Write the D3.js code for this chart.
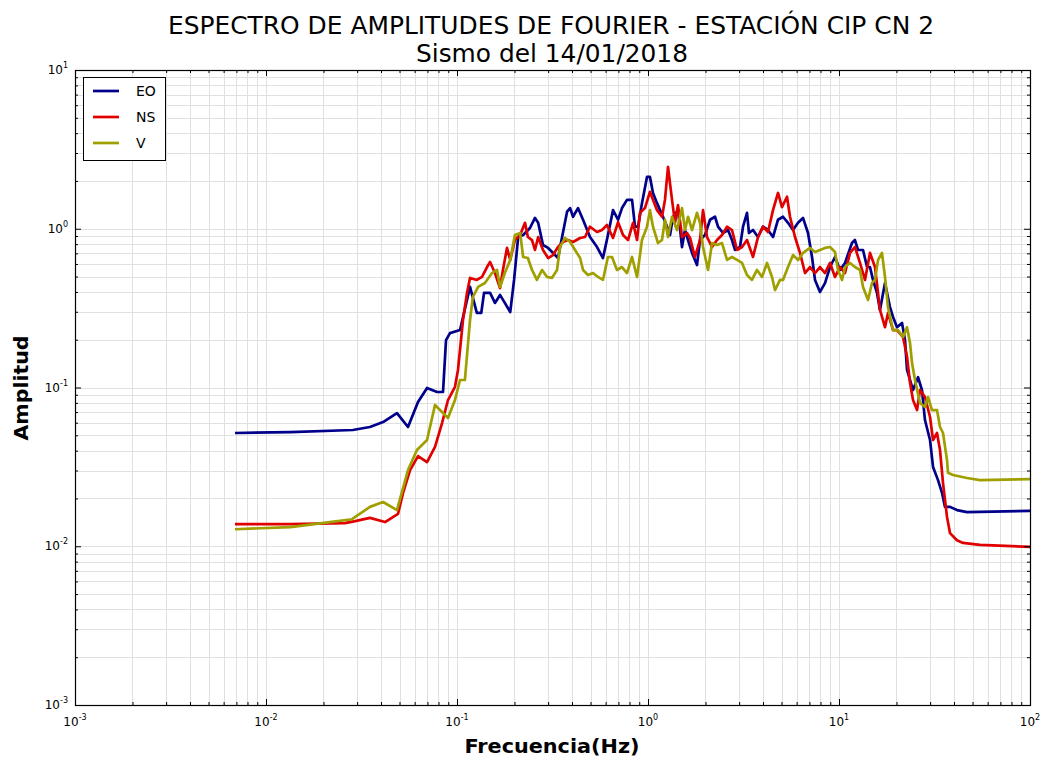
<!DOCTYPE html>
<html>
<head>
<meta charset="utf-8">
<script src="https://cdn.jsdelivr.net/npm/d3@7"></script>
<style>
  body { margin: 0; background: #fff; }
  svg { display: block; font-family: "DejaVu Sans", sans-serif; }
</style>
</head>
<body>
<div id="chart"></div>
<script>
// ---------------------------------------------------------------------------
// Fourier amplitude spectrum, CIP CN 2 station — log/log, 3 components
// ---------------------------------------------------------------------------

// [frequency (Hz), amplitude]
const eoSpectrum = [
  [0.00688,0.0517],[0.0134,0.0524],[0.0285,0.054],[0.035,0.0564],[0.041,0.0606],
  [0.0485,0.069],[0.0554,0.0564],[0.0625,0.081],[0.0697,0.0993],[0.0786,0.0937],
  [0.0845,0.0937],[0.0876,0.199],[0.0919,0.22],[0.1037,0.23],[0.117,0.43],
  [0.127,0.295],[0.134,0.295],[0.1385,0.394],[0.149,0.394],[0.158,0.341],
  [0.168,0.383],[0.178,0.341],[0.19,0.299],[0.199,0.476],[0.209,0.887],
  [0.222,0.913],[0.241,1.011],[0.256,1.17],[0.266,1.09],[0.282,0.79],
  [0.30,0.757],[0.326,0.683],[0.338,0.654],[0.355,0.887],[0.377,1.28],
  [0.391,1.35],[0.405,1.19],[0.43,1.35],[0.457,1.14],[0.497,0.887],
  [0.541,0.767],[0.581,0.654],[0.617,0.913],[0.656,1.31],[0.697,1.14],
  [0.731,1.35],[0.776,1.52],[0.825,1.52],[0.855,1.03],[0.887,1.03],
  [0.93,1.45],[0.988,2.12],[1.024,2.12],[1.062,1.68],[1.115,1.45],
  [1.156,1.31],[1.198,1.19],[1.258,1.03],[1.304,0.913],[1.352,1.19],
  [1.436,1.31],[1.507,0.767],[1.562,0.982],[1.62,0.849],[1.70,0.704],
  [1.805,0.591],[1.872,0.849],[1.988,0.913],[2.112,1.14],[2.243,1.19],
  [2.326,1.03],[2.47,0.94],[2.624,0.982],[2.753,0.849],[2.854,0.735],
  [3.032,0.767],[3.144,1.03],[3.299,1.26],[3.379,0.94],[3.546,0.982],
  [3.767,0.887],[4.001,1.03],[4.249,0.982],[4.513,0.887],[4.794,1.14],
  [5.091,1.19],[5.408,1.09],[5.744,0.982],[6.101,1.09],[6.479,1.17],
  [6.882,0.94],[7.223,0.664],[7.488,0.476],[7.953,0.40],[8.447,0.455],
  [8.973,0.574],[9.53,0.664],[10.12,0.55],[10.75,0.609],[11.69,0.813],
  [12.12,0.849],[12.58,0.735],[13.36,0.735],[14.02,0.574],[14.53,0.574],
  [15.07,0.476],[15.81,0.394],[16.39,0.308],[17.41,0.455],[18.49,0.321],
  [19.18,0.278],[20.13,0.24],[21.38,0.255],[22.16,0.199],[22.71,0.129],
  [24.41,0.0964],[25.93,0.116],[27.2,0.0964],[28.19,0.0624],[29.96,0.0467],
  [31.07,0.0316],[32.99,0.0261],[34.62,0.0217],[35.89,0.0177],[38.12,0.0177],
  [41.47,0.0169],[46.8,0.0164],[100,0.0167]
];

const nsSpectrum = [
  [0.00688,0.0138],[0.0134,0.0138],[0.0259,0.014],[0.0293,0.0144],[0.035,0.0151],
  [0.042,0.0142],[0.0491,0.016],[0.0522,0.0217],[0.0568,0.0302],[0.0625,0.037],
  [0.0697,0.0339],[0.0767,0.0422],[0.0835,0.0597],[0.0897,0.0834],[0.0976,0.101],
  [0.1012,0.129],[0.1075,0.266],[0.1128,0.394],[0.117,0.49],[0.127,0.476],
  [0.1352,0.497],[0.1436,0.574],[0.149,0.617],[0.158,0.526],[0.168,0.423],
  [0.174,0.55],[0.1827,0.757],[0.19,0.636],[0.201,0.849],[0.214,0.913],
  [0.227,1.09],[0.235,0.887],[0.247,0.849],[0.256,0.735],[0.266,0.887],
  [0.282,0.735],[0.30,0.654],[0.318,0.683],[0.338,0.767],[0.359,0.825],
  [0.381,0.849],[0.405,0.825],[0.441,0.875],[0.468,0.887],[0.497,1.03],
  [0.541,0.954],[0.574,0.982],[0.61,1.056],[0.656,0.875],[0.697,1.10],
  [0.74,0.913],[0.786,0.849],[0.835,1.09],[0.876,0.849],[0.908,1.26],
  [0.964,1.35],[1.024,1.71],[1.062,1.52],[1.115,1.31],[1.184,1.19],
  [1.227,1.52],[1.273,2.45],[1.336,1.52],[1.385,1.09],[1.436,1.41],
  [1.507,0.887],[1.60,0.94],[1.66,0.875],[1.76,0.664],[1.872,0.849],
  [1.941,1.31],[2.037,0.887],[2.164,0.767],[2.298,0.849],[2.44,0.913],
  [2.593,1.03],[2.753,0.982],[2.925,0.735],[3.107,0.767],[3.299,0.849],
  [3.546,0.664],[3.767,0.887],[4.001,1.03],[4.249,0.954],[4.513,1.31],
  [4.794,1.68],[5.03,1.37],[5.344,1.59],[5.54,1.19],[5.884,0.887],
  [6.25,0.704],[6.637,0.526],[7.05,0.574],[7.488,0.526],[7.953,0.574],
  [8.447,0.526],[8.973,0.609],[9.53,0.497],[10.12,0.574],[10.75,0.526],
  [11.42,0.704],[12.12,0.767],[12.88,0.609],[13.68,0.476],[14.53,0.704],
  [15.43,0.574],[16.39,0.308],[17.41,0.24],[18.05,0.295],[19.18,0.23],
  [20.13,0.23],[21.64,0.208],[22.71,0.156],[23.54,0.107],[24.41,0.0834],
  [25.62,0.0721],[26.56,0.0964],[28.19,0.0871],[29.96,0.0652],[31.07,0.0467],
  [32.59,0.0517],[33.79,0.0404],[35.04,0.025],[36.77,0.0153],[38.12,0.0121],
  [41.47,0.0109],[44.6,0.0105],[54.73,0.0102],[100,0.0099]
];

const vSpectrum = [
  [0.00688,0.0128],[0.0134,0.0132],[0.0216,0.0142],[0.0282,0.0148],[0.035,0.0177],
  [0.041,0.019],[0.0485,0.0169],[0.0554,0.0302],[0.0617,0.0404],[0.0697,0.0467],
  [0.0767,0.0776],[0.0897,0.0643],[0.0976,0.0834],[0.1037,0.1115],[0.11,0.1115],
  [0.117,0.266],[0.121,0.371],[0.129,0.43],[0.14,0.455],[0.1525,0.526],
  [0.162,0.55],[0.168,0.43],[0.178,0.526],[0.19,0.636],[0.201,0.913],
  [0.214,0.94],[0.222,0.664],[0.235,0.654],[0.247,0.55],[0.262,0.476],
  [0.279,0.55],[0.296,0.497],[0.314,0.49],[0.334,0.55],[0.346,0.767],
  [0.368,0.875],[0.391,0.825],[0.415,0.735],[0.441,0.654],[0.457,0.55],
  [0.485,0.511],[0.515,0.526],[0.547,0.497],[0.581,0.476],[0.617,0.664],
  [0.648,0.664],[0.688,0.55],[0.731,0.574],[0.776,0.526],[0.825,0.664],
  [0.876,0.497],[0.93,0.849],[0.988,1.03],[1.024,1.31],[1.062,1.03],
  [1.128,0.813],[1.184,0.849],[1.227,1.14],[1.273,0.887],[1.336,1.19],
  [1.419,0.982],[1.507,1.35],[1.562,0.982],[1.62,1.19],[1.70,0.982],
  [1.805,1.26],[1.872,1.09],[1.941,0.767],[2.062,0.55],[2.164,0.813],
  [2.298,0.79],[2.44,0.813],[2.593,0.636],[2.753,0.664],[2.925,0.636],
  [3.107,0.609],[3.299,0.511],[3.504,0.476],[3.722,0.55],[3.953,0.497],
  [4.199,0.609],[4.459,0.497],[4.623,0.411],[4.911,0.476],[5.091,0.476],
  [5.408,0.574],[5.744,0.683],[6.101,0.636],[6.479,0.704],[7.05,0.757],
  [7.488,0.714],[7.953,0.735],[8.447,0.757],[8.973,0.767],[9.53,0.714],
  [9.88,0.55],[10.37,0.476],[10.75,0.574],[11.42,0.609],[12.12,0.574],
  [12.88,0.55],[13.36,0.43],[14.19,0.356],[14.89,0.455],[15.43,0.476],
  [16.01,0.636],[16.79,0.704],[17.41,0.497],[18.05,0.321],[19.18,0.23],
  [20.37,0.23],[21.64,0.208],[22.71,0.24],[23.54,0.191],[24.11,0.143],
  [25.0,0.1115],[26.56,0.0798],[28.19,0.0754],[29.25,0.0871],[30.68,0.0721],
  [32.59,0.0721],[33.79,0.0564],[35.04,0.0517],[36.77,0.0349],[37.22,0.029],
  [39.53,0.0281],[46.8,0.0269],[54.73,0.0261],[100,0.0265]
];

const seriesNames = ['EO', 'NS', 'V'];
const seriesColors = ['#00008b', '#e00000', '#9f9f00'];
const xDomain = [1e-3, 1e2];
const yDomain = [1e-3, 1e1];

const W = 1048, H = 760;
const plot = { left: 75, top: 70, right: 1030, bottom: 705 };

const x = d3.scaleLog().domain(xDomain).range([plot.left, plot.right]);
const y = d3.scaleLog().domain(yDomain).range([plot.bottom, plot.top]);

const isMajor = (v) => Math.abs(Math.log10(v) - Math.round(Math.log10(v))) < 1e-9;
const xAll = x.ticks();
const yAll = y.ticks();
const xMajor = xAll.filter(isMajor), xMinor = xAll.filter((v) => !isMajor(v));
const yMajor = yAll.filter(isMajor), yMinor = yAll.filter((v) => !isMajor(v));
const crisp = (v) => Math.round(v) + 0.5;

const svg = d3.select('#chart').append('svg').attr('width', W).attr('height', H);
svg.append('rect').attr('width', W).attr('height', H).attr('fill', '#fff');

// grid, major and minor look the same
const grid = svg.append('g').attr('stroke', '#e0e0e0').attr('stroke-width', 1);
grid.selectAll('line.gx').data(xAll).join('line').attr('class', 'gx')
  .attr('x1', (d) => crisp(x(d))).attr('x2', (d) => crisp(x(d)))
  .attr('y1', plot.top).attr('y2', plot.bottom);
grid.selectAll('line.gy').data(yAll).join('line').attr('class', 'gy')
  .attr('y1', (d) => crisp(y(d))).attr('y2', (d) => crisp(y(d)))
  .attr('x1', plot.left).attr('x2', plot.right);

// series
svg.append('clipPath').attr('id', 'clip').append('rect')
  .attr('x', plot.left).attr('y', plot.top)
  .attr('width', plot.right - plot.left).attr('height', plot.bottom - plot.top);

const line = d3.line().x((d) => x(d[0])).y((d) => y(d[1]));
const lines = svg.append('g').attr('clip-path', 'url(#clip)');
[eoSpectrum, nsSpectrum, vSpectrum].forEach((s, i) => {
  lines.append('path').datum(s)
    .attr('d', line)
    .attr('fill', 'none')
    .attr('stroke', seriesColors[i])
    .attr('stroke-width', 2.7)
    .attr('stroke-linejoin', 'round');
});

// ticks (inward, all four sides)
const tickAxis = (axisFn, scale, values, size, transform) => {
  const g = svg.append('g').attr('transform', transform)
    .call(axisFn(scale).tickValues(values).tickSize(-size).tickSizeOuter(0).tickFormat(''));
  g.select('.domain').remove();
  g.selectAll('line').attr('stroke', '#000');
};
tickAxis(d3.axisBottom, x, xMajor, 6, `translate(0,${plot.bottom})`);
tickAxis(d3.axisBottom, x, xMinor, 3, `translate(0,${plot.bottom})`);
tickAxis(d3.axisTop, x, xMajor, 6, `translate(0,${plot.top})`);
tickAxis(d3.axisTop, x, xMinor, 3, `translate(0,${plot.top})`);
tickAxis(d3.axisLeft, y, yMajor, 6, `translate(${plot.left},0)`);
tickAxis(d3.axisLeft, y, yMinor, 3, `translate(${plot.left},0)`);
tickAxis(d3.axisRight, y, yMajor, 6, `translate(${plot.right},0)`);
tickAxis(d3.axisRight, y, yMinor, 3, `translate(${plot.right},0)`);

svg.append('rect')
  .attr('x', plot.left + 0.5).attr('y', plot.top + 0.5)
  .attr('width', plot.right - plot.left).attr('height', plot.bottom - plot.top)
  .attr('fill', 'none').attr('stroke', '#000').attr('stroke-width', 1.2);

// tick labels 10^n
const powLabel = (sel) => {
  sel.text('10').append('tspan')
    .attr('dy', -6).style('font-size', '8px')
    .text((d) => Math.round(Math.log10(d)));
};
svg.append('g').selectAll('text').data(xMajor).join('text')
  .attr('x', (d) => x(d)).attr('y', 726)
  .attr('text-anchor', 'middle').style('font-size', '12px')
  .call(powLabel);
svg.append('g').selectAll('text').data(yMajor).join('text')
  .attr('x', 68).attr('y', (d) => y(d) + 4)
  .attr('text-anchor', 'end').style('font-size', '12px')
  .call(powLabel);

// titles
svg.append('text').attr('x', 551).attr('y', 34).attr('text-anchor', 'middle')
  .style('font-size', '24px').attr('textLength', 766).attr('lengthAdjust', 'spacingAndGlyphs')
  .text('ESPECTRO DE AMPLITUDES DE FOURIER - ESTACIÓN CIP CN 2');
svg.append('text').attr('x', 552).attr('y', 62).attr('text-anchor', 'middle')
  .style('font-size', '24px').attr('textLength', 272).attr('lengthAdjust', 'spacingAndGlyphs')
  .text('Sismo del 14/01/2018');

svg.append('text').attr('x', 552).attr('y', 753).attr('text-anchor', 'middle')
  .style('font-size', '19px').style('font-weight', 'bold')
  .attr('textLength', 175).attr('lengthAdjust', 'spacingAndGlyphs')
  .text('Frecuencia(Hz)');
svg.append('text').attr('transform', 'translate(28,388) rotate(-90)')
  .attr('text-anchor', 'middle')
  .style('font-size', '19px').style('font-weight', 'bold')
  .attr('textLength', 105).attr('lengthAdjust', 'spacingAndGlyphs')
  .text('Amplitud');

// legend
const legend = svg.append('g');
legend.append('rect').attr('x', 83.5).attr('y', 77.5).attr('width', 82).attr('height', 83)
  .attr('fill', '#fff').attr('stroke', '#000').attr('stroke-width', 1);
seriesNames.forEach((name, i) => {
  const ly = 91 + i * 26;
  legend.append('line').attr('x1', 93).attr('x2', 119).attr('y1', ly).attr('y2', ly)
    .attr('stroke', seriesColors[i]).attr('stroke-width', 2.7);
  legend.append('text').attr('x', 136).attr('y', ly + 5)
    .style('font-size', '14px').text(name);
});
</script>
</body>
</html>
